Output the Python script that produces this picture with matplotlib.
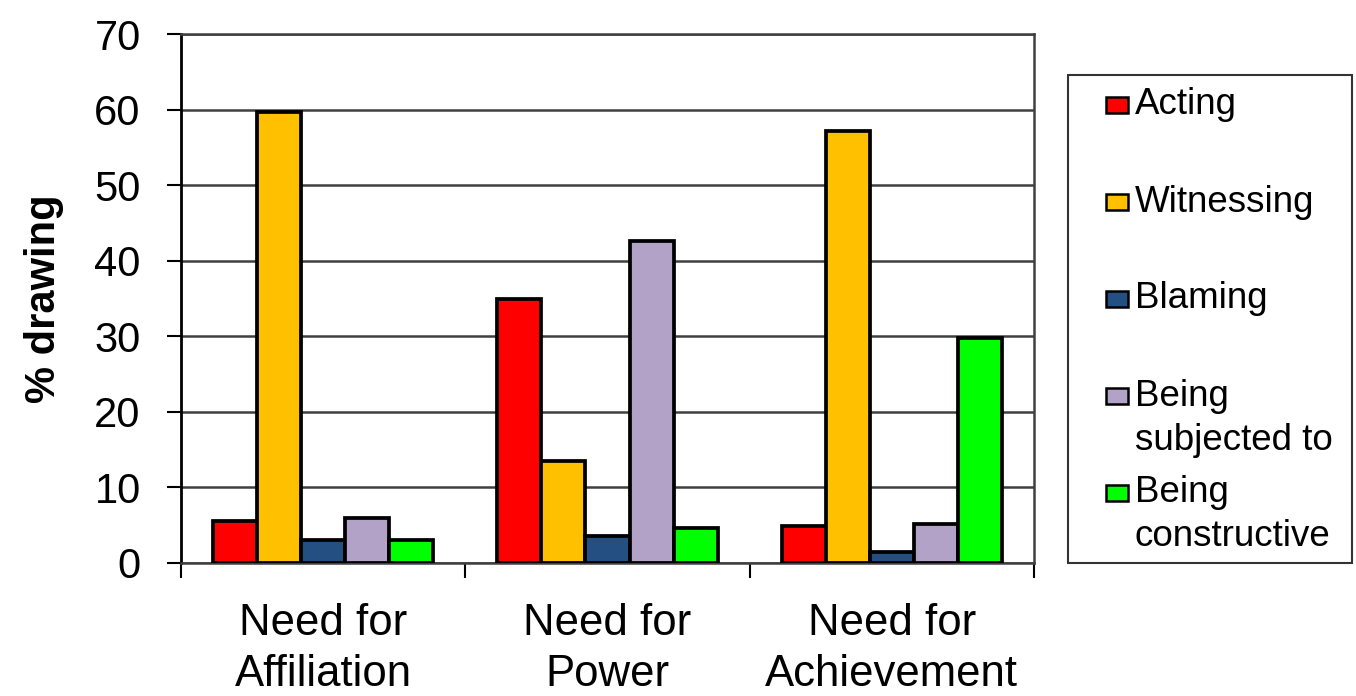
import matplotlib.pyplot as plt
import numpy as np
from matplotlib.patches import Rectangle

plt.rcParams['font.family'] = ['Liberation Sans', 'DejaVu Sans']

needs = ['Need for\nAffiliation', 'Need for\nPower', 'Need for\nAchievement']
roles = ['Acting', 'Witnessing', 'Blaming', 'Being\nsubjected to', 'Being\nconstructive']
acting = [5.5, 35.0, 4.9]
witnessing = [59.7, 13.5, 57.1]
blaming = [3.0, 3.6, 1.5]
subjected = [6.0, 42.6, 5.1]
constructive = [3.0, 4.6, 29.8]
colors = ['#ff0000', '#ffc000', '#244f82', '#b3a2c7', '#00ff00']
yticks = [0, 10, 20, 30, 40, 50, 60, 70]

W, H = 1356, 696
fig = plt.figure(figsize=(W / 100, H / 100), dpi=100)
ax = fig.add_axes([181 / W, 1 - 563 / H, (1034 - 181) / W, (563 - 34) / H])

series = [acting, witnessing, blaming, subjected, constructive]
x = np.arange(len(needs))
bw = 0.155
for k, vals in enumerate(series):
    ax.bar(x + (k - 2) * bw, vals, bw, color=colors[k], edgecolor='black',
           linewidth=2.7, zorder=3)

ax.set_xlim(-0.5, 2.5)
ax.set_ylim(0, 70)
ax.set_yticks(yticks)
ax.yaxis.grid(True, color='#404040', linewidth=1.8, zorder=0)
ax.set_axisbelow(True)

# group boundaries get the tick marks, group centres get the labels
ax.set_xticks([-0.5, 0.5, 1.5, 2.5])
ax.set_xticklabels([])
ax.set_xticks(x, minor=True)
ax.set_xticklabels(needs, minor=True, fontsize=31.5, linespacing=1.3)
ax.tick_params(axis='x', which='major', length=11, width=1.5, direction='out')
ax.tick_params(axis='x', which='minor', length=0, pad=29)
ax.tick_params(axis='y', length=10, width=1.5, direction='out', pad=19,
               labelsize=30)

for side in ['top', 'right', 'bottom']:
    ax.spines[side].set_color('#404040')
    ax.spines[side].set_linewidth(1.8)
ax.spines['left'].set_linewidth(2)

ax.set_ylabel('% drawing', fontsize=30, fontweight='bold', labelpad=22)

# legend box drawn by hand so the entries keep their spacing
lx0, lx1, ly0, ly1 = 1068, 1352, 75, 563
fig.patches.append(Rectangle((lx0 / W, 1 - ly1 / H), (lx1 - lx0) / W,
                             (ly1 - ly0) / H, transform=fig.transFigure,
                             facecolor='white', edgecolor='#333333',
                             linewidth=1.5))
entry_y = [105, 202, 299, 396, 493]
for k, label in enumerate(roles):
    yc = entry_y[k]
    fig.patches.append(Rectangle((1106 / W, 1 - (yc + 8) / H), 22 / W, 16 / H,
                                 transform=fig.transFigure,
                                 facecolor=colors[k], edgecolor='black',
                                 linewidth=1.8))
    for j, line in enumerate(label.split('\n')):
        fig.text(1135 / W, 1 - (yc + 44 * j) / H, line, fontsize=26.5,
                 va='center', ha='left')

fig.savefig('out.png', dpi=100)
